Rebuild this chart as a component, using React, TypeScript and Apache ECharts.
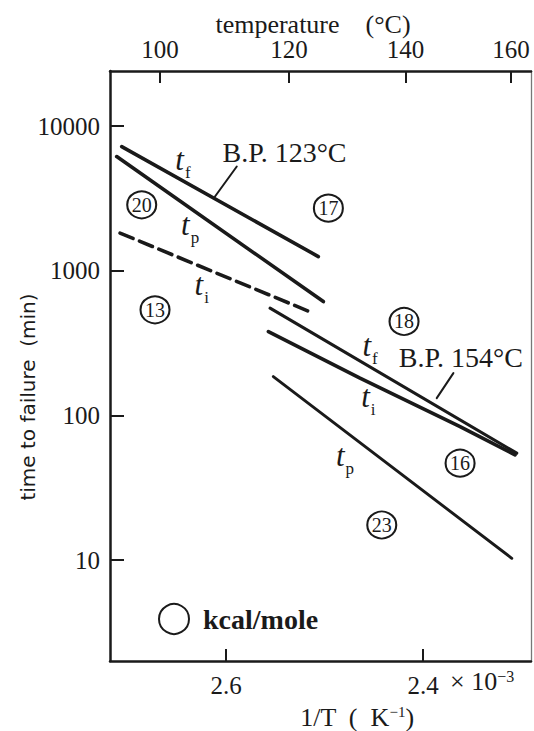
import React, { useEffect, useRef } from 'react';
import * as echarts from 'echarts';

// 1/T in units of 1e-3 K^-1, time to failure in minutes
const bp123_tf = [[2.7059, 7210], [2.5063, 1253]];
const bp123_tp = [[2.711, 6150], [2.5012, 612]];
const bp123_ti = [[2.7076, 1820], [2.5114, 509]];
const bp154_tf = [[2.5553, 551], [2.3049, 54.9]];
const bp154_ti = [[2.557, 380], [2.464, 181], [2.3624, 83.8], [2.3066, 53.4]];
const bp154_tp = [[2.552, 185.7], [2.3099, 10.3]];
const pointer123 = [[2.5891, 5250], [2.6112, 3257]];
const pointer154 = [[2.3692, 196], [2.3861, 131.7]];

const activationEnergies = [
  { name: '20', value: [2.6856, 2853] },
  { name: '17', value: [2.4961, 2707] },
  { name: '13', value: [2.6721, 537] },
  { name: '18', value: [2.4193, 446] },
  { name: '16', value: [2.3624, 46.8] },
  { name: '23', value: [2.4419, 17.5] },
];
const curveLabels = [
  { name: 'f', value: [2.6437, 5570] },
  { name: 'p', value: [2.6365, 1980] },
  { name: 'i', value: [2.6247, 762] },
  { name: 'f', value: [2.4538, 292] },
  { name: 'i', value: [2.4555, 128] },
  { name: 'p', value: [2.4792, 50.7] },
];
const bpLabels = [
  { name: 'B.P. 123°C', value: [2.6041, 6580] },
  { name: 'B.P. 154°C', value: [2.4251, 252] },
];
const invTTicks = [2.6, 2.4];
const tempTicksC = [100, 120, 140, 160];
const timeTicks = [10, 100, 1000, 10000];

const INK = '#1a1a1a';
const SERIF = 'Liberation Serif';

function lineSeries(data: number[][], width: number, dashed = false) {
  return {
    type: 'line',
    data,
    xAxisIndex: 0,
    yAxisIndex: 0,
    showSymbol: false,
    symbol: 'none',
    silent: true,
    lineStyle: { color: INK, width, type: dashed ? [14, 7] : 'solid', cap: 'round', opacity: 1 },
    z: 3,
  };
}

const option: any = {
  animation: false,
  backgroundColor: '#ffffff',
  grid: { left: 110, right: 3, top: 71, bottom: 70, show: false },
  xAxis: [
    {
      type: 'value',
      position: 'bottom',
      inverse: true,
      min: 2.2904,
      max: 2.7178,
      axisLine: { onZero: false, lineStyle: { color: INK, width: 2.5 } },
      axisTick: { inside: true, length: 12, lineStyle: { color: INK, width: 2 }, customValues: invTTicks },
      axisLabel: {
        customValues: invTTicks,
        margin: 12,
        color: INK,
        fontFamily: SERIF,
        fontSize: 25,
        formatter: (v: number) => v.toFixed(1),
      },
      splitLine: { show: false },
    },
    {
      type: 'value',
      position: 'top',
      inverse: true,
      min: 2.2876,
      max: 2.7328,
      axisLine: { onZero: false, lineStyle: { color: INK, width: 2.5 } },
      axisTick: {
        inside: true,
        length: 12,
        lineStyle: { color: INK, width: 2 },
        customValues: tempTicksC.map((c) => 1000 / (c + 273.15)),
      },
      axisLabel: {
        customValues: tempTicksC.map((c) => 1000 / (c + 273.15)),
        margin: 9,
        color: INK,
        fontFamily: SERIF,
        fontSize: 25,
        formatter: (v: number) => String(Math.round(1000 / v - 273.15)),
      },
      splitLine: { show: false },
    },
  ],
  yAxis: [
    {
      type: 'log',
      logBase: 10,
      min: 2.01,
      max: 24000,
      position: 'left',
      axisLine: { onZero: false, lineStyle: { color: INK, width: 2.5 } },
      axisTick: { inside: true, length: 14, lineStyle: { color: INK, width: 2 }, customValues: timeTicks },
      axisLabel: {
        customValues: timeTicks,
        margin: 10,
        color: INK,
        fontFamily: SERIF,
        fontSize: 25,
        formatter: (v: number) => String(Math.round(v)),
      },
      splitLine: { show: false },
    },
    {
      type: 'log',
      logBase: 10,
      min: 2.01,
      max: 24000,
      position: 'right',
      axisLine: { onZero: false, lineStyle: { color: '#777', width: 1.3 } },
      axisTick: { show: false },
      axisLabel: { show: false },
      splitLine: { show: false },
    },
  ],
  series: [
    lineSeries(bp123_tf, 3.6),
    lineSeries(bp123_tp, 3.6),
    lineSeries(bp123_ti, 3.6, true),
    lineSeries(bp154_tf, 3.1),
    lineSeries(bp154_ti, 3.6),
    lineSeries(bp154_tp, 2.9),
    lineSeries(pointer123, 2),
    lineSeries(pointer154, 2),
    {
      type: 'scatter',
      data: activationEnergies,
      symbol: 'circle',
      symbolSize: [29, 27],
      silent: true,
      itemStyle: { color: 'rgba(255,255,255,0)', borderColor: INK, borderWidth: 2, opacity: 1 },
      label: {
        show: true,
        position: 'inside',
        formatter: (p: any) => p.name,
        color: INK,
        fontFamily: SERIF,
        fontSize: 20,
      },
      z: 4,
    },
    {
      type: 'scatter',
      data: curveLabels,
      symbolSize: 1,
      silent: true,
      itemStyle: { color: 'rgba(0,0,0,0)', opacity: 1 },
      label: {
        show: true,
        position: 'inside',
        formatter: (p: any) => `{t|t}{s|${p.name}}`,
        rich: {
          t: { fontFamily: SERIF, fontStyle: 'italic', fontSize: 31, color: INK, verticalAlign: 'bottom', padding: [0, 1, 6, 0] },
          s: { fontFamily: SERIF, fontSize: 17, color: INK, verticalAlign: 'bottom' },
        },
      },
      z: 4,
    },
    {
      type: 'scatter',
      data: bpLabels,
      symbolSize: 1,
      silent: true,
      itemStyle: { color: 'rgba(0,0,0,0)', opacity: 1 },
      label: {
        show: true,
        position: 'right',
        distance: 0,
        formatter: (p: any) => p.name,
        color: INK,
        fontFamily: SERIF,
        fontSize: 28,
      },
      z: 4,
    },
  ],
  graphic: [
    {
      type: 'text',
      x: 313,
      y: 24,
      style: {
        text: 'temperature    (°C)',
        font: `26px "${SERIF}"`,
        fill: INK,
        align: 'center',
        textAlign: 'center',
        verticalAlign: 'middle',
        textVerticalAlign: 'middle',
      },
    },
    {
      type: 'text',
      x: 28,
      y: 397,
      rotation: Math.PI / 2,
      style: {
        text: 'time to failure  (min)',
        font: '20px "DejaVu Sans"',
        fill: INK,
        align: 'center',
        textAlign: 'center',
        verticalAlign: 'middle',
        textVerticalAlign: 'middle',
      },
    },
    {
      type: 'text',
      x: 357,
      y: 717,
      style: {
        text: '1/T  (  K{sup|−1})',
        font: `26px "${SERIF}"`,
        fill: INK,
        align: 'center',
        textAlign: 'center',
        verticalAlign: 'middle',
        textVerticalAlign: 'middle',
        rich: { sup: { fontSize: 15, fontFamily: SERIF, fill: INK, verticalAlign: 'top', padding: [0, 0, 10, 0] } },
      },
    },
    {
      type: 'text',
      x: 450,
      y: 681,
      style: {
        text: '× 10{sup|−3}',
        font: `26px "${SERIF}"`,
        fill: INK,
        align: 'left',
        textAlign: 'left',
        verticalAlign: 'middle',
        textVerticalAlign: 'middle',
        rich: { sup: { fontSize: 16, fontFamily: SERIF, fill: INK, verticalAlign: 'top', padding: [0, 0, 10, 0] } },
      },
    },
    {
      type: 'circle',
      shape: { cx: 174, cy: 619, r: 15 },
      style: { fill: 'none', stroke: INK, lineWidth: 2 },
    },
    {
      type: 'text',
      x: 203,
      y: 619,
      style: {
        text: 'kcal/mole',
        font: `bold 28px "${SERIF}"`,
        fill: INK,
        align: 'left',
        textAlign: 'left',
        verticalAlign: 'middle',
        textVerticalAlign: 'middle',
      },
    },
  ],
};

export default function App() {
  const ref = useRef<HTMLDivElement>(null);
  useEffect(() => {
    if (!ref.current) return;
    const chart = echarts.init(ref.current, null, { renderer: 'svg' });
    chart.setOption(option);
    return () => chart.dispose();
  }, []);
  return (
    <div
      ref={ref}
      style={{ position: 'fixed', left: 0, top: 0, width: 534, height: 731, background: '#fff' }}
    />
  );
}
